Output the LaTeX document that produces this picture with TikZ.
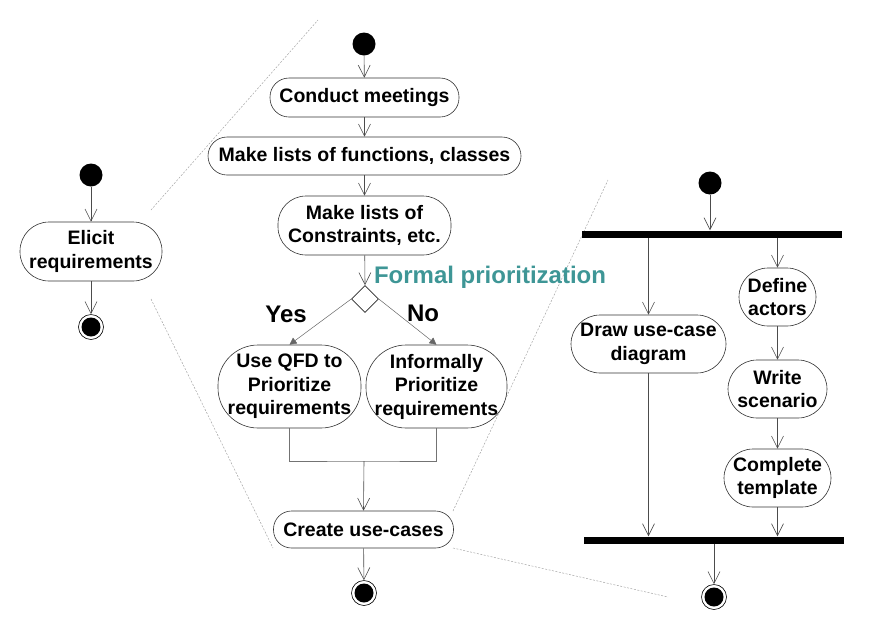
\documentclass[tikz,border=0pt]{standalone}
\usepackage{fontspec}
\setmainfont{Liberation Sans}
\usetikzlibrary{arrows.meta,shapes.geometric,calc}
\definecolor{teal1}{RGB}{62,150,150}
\begin{document}
\begin{tikzpicture}[x=1pt,y=-1pt,
  act/.style={draw=black!80, line width=0.6pt, rounded corners=#1, align=center,
    font=\fontsize{19.5}{23.5}\selectfont\bfseries, inner sep=0pt, fill=white},
  startn/.style={circle, fill=black, minimum size=23, inner sep=0pt},
  endn/.style={circle, draw=black, line width=0.6pt, minimum size=25, inner sep=0pt,
    path picture={\fill[black] (path picture bounding box.center) circle (9.5);}},
  arr/.style={draw=black!70, line width=0.6pt, -{Straight Barb[length=12pt,width=12pt]}},
  tri/.style={draw=black!60, line width=0.5pt, -{Triangle[length=7pt,width=7pt]}},
  plain/.style={draw=black!55, line width=0.6pt},
  zl/.style={draw=gray!70, line width=0.5pt, dash pattern=on 2pt off 1.5pt},
  bar/.style={fill=black, minimum width=260, minimum height=7, inner sep=0pt},
  lbl/.style={font=\fontsize{24}{28}\selectfont\bfseries}
]
\useasboundingbox (0,0) rectangle (878,638);

% zoom lines
\draw[zl] (151,210) -- (318,20);
\draw[zl] (151,299) -- (273,548);
\draw[zl] (453,511) -- (608,180);
\draw[zl] (453,548) -- (668,597);

% left diagram
\node[startn] (ls) at (91,175) {};
\node[act=29, minimum width=142, minimum height=59] (elicit) at (91,251.5) {Elicit\\requirements};
\node[endn] (le) at (91,327) {};
\draw[arr] (ls) -- (elicit);
\draw[arr] (elicit) -- (le);

% middle diagram
\node[startn] (ms) at (364,44) {};
\node[act=19, minimum width=189, minimum height=39] (conduct) at (364.5,97.5) {Conduct meetings};
\node[act=19, minimum width=313, minimum height=38] (funcs) at (364.5,156) {Make lists of functions, classes};
\node[act=28, minimum width=173, minimum height=59] (constr) at (364.5,225.5) {Make lists of\\Constraints, etc.};
\node[diamond, draw=black!85, line width=0.6pt, minimum size=27, inner sep=0pt] (dec) at (365,299) {};
\node[lbl, text=teal1] (fp) at (490,277) {Formal prioritization};
\node[lbl] (yes) at (286,314) {Yes};
\node[lbl] (no) at (423,313) {No};
\node[act=40, minimum width=143, minimum height=83] (qfd) at (289.5,386.5) {Use QFD to\\Prioritize\\requirements};
\node[act=40, minimum width=141, minimum height=83] (inf) at (436.5,386.5) {Informally\\Prioritize\\requirements};
\coordinate (merge) at (364,461);
\node[act=18, minimum width=180, minimum height=37] (create) at (363.5,529.5) {Create use-cases};
\node[endn] (me) at (364,593) {};

\draw[arr] (ms) -- (conduct);
\draw[arr] (conduct) -- (funcs);
\draw[arr] (funcs) -- (constr);
\draw[arr] (constr) -- (dec.north);
\draw[tri] (dec.west) -- (qfd.north);
\draw[tri] (dec.east) -- (inf.north);
\draw[plain] (qfd.south) |- (merge) -| (inf.south);
\draw[arr] (merge) -- (create.north);
\draw[arr] (create) -- (me);

% right diagram
\node[startn] (rs) at (710,183) {};
\node[bar] (bar1) at (712,234) {};
\node[act=29, minimum width=155, minimum height=58] (drawuc) at (648.5,344) {Draw use-case\\diagram};
\node[act=29, minimum width=77, minimum height=58] (define) at (777.5,297) {Define\\actors};
\node[act=29, minimum width=99, minimum height=58] (write) at (777.5,389) {Write\\scenario};
\node[act=29, minimum width=107, minimum height=58] (complete) at (777.5,478) {Complete\\template};
\node[bar] (bar2) at (714,540) {};
\node[endn] (re) at (714,597) {};

\draw[arr] (rs) -- (rs |- bar1.north);
\draw[arr] (drawuc.north |- bar1.south) -- (drawuc.north);
\draw[arr] (define.north |- bar1.south) -- (define.north);
\draw[arr] (define) -- (write);
\draw[arr] (write) -- (complete);
\draw[arr] (drawuc.south) -- (drawuc.south |- bar2.north);
\draw[arr] (complete.south) -- (complete.south |- bar2.north);
\draw[arr] (re |- bar2.south) -- (re);
\end{tikzpicture}
\end{document}
